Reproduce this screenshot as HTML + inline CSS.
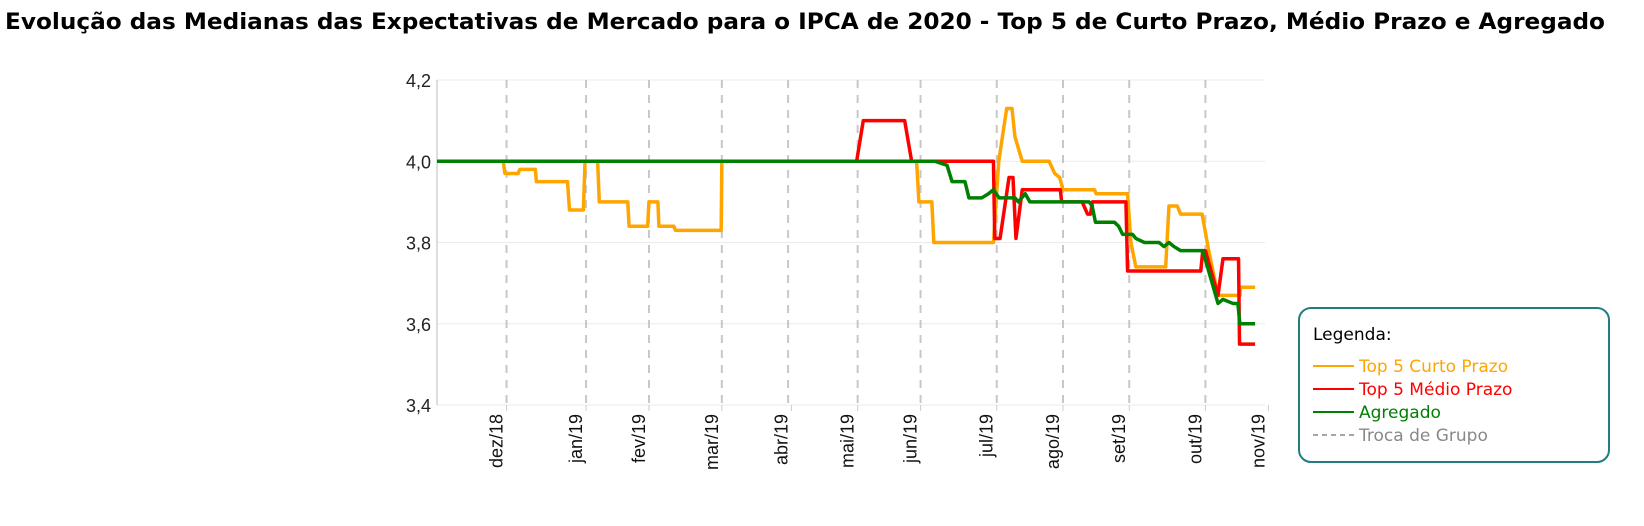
<!DOCTYPE html>
<html><head><meta charset="utf-8"><style>
body{margin:0;background:#fff;width:1644px;height:521px;overflow:hidden;font-family:"Liberation Sans",sans-serif}
</style></head><body>
<svg id="chart" width="1644" height="521" xmlns="http://www.w3.org/2000/svg">
<text x="5" y="29" font-family="'DejaVu Sans','Liberation Sans',sans-serif" font-weight="bold" font-size="22" textLength="1600" lengthAdjust="spacingAndGlyphs">Evolução das Medianas das Expectativas de Mercado para o IPCA de 2020 - Top 5 de Curto Prazo, Médio Prazo e Agregado</text>
<g id="grid"></g>
<g id="marks"></g>
<g>
<rect x="1299" y="308" width="310" height="154" rx="12" fill="#fff" stroke="#1f7f7f" stroke-width="2"/>
<text x="1313" y="340" font-family="'DejaVu Sans',sans-serif" font-size="17" fill="#000">Legenda:</text>
<line x1="1313" y1="366" x2="1354" y2="366" stroke="#ffa500" stroke-width="2"/>
<text x="1359" y="372" font-family="'DejaVu Sans',sans-serif" font-size="17" fill="#ffa500">Top 5 Curto Prazo</text>
<line x1="1313" y1="389" x2="1354" y2="389" stroke="#ff0000" stroke-width="2"/>
<text x="1359" y="395" font-family="'DejaVu Sans',sans-serif" font-size="17" fill="#ff0000">Top 5 Médio Prazo</text>
<line x1="1313" y1="412" x2="1354" y2="412" stroke="#008000" stroke-width="2"/>
<text x="1359" y="418" font-family="'DejaVu Sans',sans-serif" font-size="17" fill="#008000">Agregado</text>
<line x1="1313" y1="435" x2="1354" y2="435" stroke="#888" stroke-width="1.5" stroke-dasharray="5,4"/>
<text x="1359" y="441" font-family="'DejaVu Sans',sans-serif" font-size="17" fill="#888">Troca de Grupo</text>
</g>
</svg>
<script>
const yTicks=[3.4,3.6,3.8,4.0,4.2];
const yTickLabels=["3,4","3,6","3,8","4,0","4,2"];
const monthTicks=[21,45,64,86,107,127,146,169,189,209,232,251];
const monthLabels=["dez/18","jan/19","fev/19","mar/19","abr/19","mai/19","jun/19","jul/19","ago/19","set/19","out/19","nov/19"];
const groupChanges=[21,45,64,86,106,127,146,169,189,209,232];
const curtoT=[0,20,20.5,24.5,25,29.7,30,39.4,40,44.2,44.7,48.5,49,57.6,58,63.6,64,66.7,67,71.5,72,85.8,86,144.8,145.5,149.4,150,168,169.6,172,173.6,174.5,176.7,184.8,186.5,188,189,198.5,199,208.5,209.5,211,220,221,223.5,224.5,231,233,235.8,242.4,242.6,247];
const curtoV=[4.0,4.0,3.97,3.97,3.98,3.98,3.95,3.95,3.88,3.88,4.0,4.0,3.90,3.90,3.84,3.84,3.90,3.90,3.84,3.84,3.83,3.83,4.0,4.0,3.90,3.90,3.80,3.80,4.0,4.13,4.13,4.06,4.0,4.0,3.97,3.96,3.93,3.93,3.92,3.92,3.80,3.74,3.74,3.89,3.89,3.87,3.87,3.78,3.67,3.67,3.69,3.69];
const medioT=[0,126.7,128.7,141.2,143.3,168,168.4,170,172.7,173.9,174.8,176.7,188.2,188.6,194.8,196.4,197.3,197.9,208,208.5,230.6,231.2,232,235.8,237.3,242,242.3,247];
const medioV=[4.0,4.0,4.1,4.1,4.0,4.0,3.81,3.81,3.96,3.96,3.81,3.93,3.93,3.90,3.90,3.87,3.87,3.90,3.90,3.73,3.73,3.78,3.78,3.67,3.76,3.76,3.55,3.55];
const agregT=[0,150.3,154,155.5,159.4,160.6,164.5,166.5,168,169.7,174.5,175.5,177.6,179,196.9,197.8,198.8,204.5,205.8,207,210,211,213.6,218,219.5,221,222.5,224.5,230.6,231.2,235.8,237.3,240.3,241.8,242.4,247];
const agregV=[4.0,4.0,3.99,3.95,3.95,3.91,3.91,3.92,3.93,3.91,3.91,3.90,3.92,3.90,3.90,3.89,3.85,3.85,3.84,3.82,3.82,3.81,3.80,3.80,3.79,3.80,3.79,3.78,3.78,3.78,3.65,3.66,3.65,3.65,3.60,3.60];

const NS="http://www.w3.org/2000/svg";
const X0=437,X1=1270,T1=251.5,Y0=405,Y1=80,V0=3.4,V1=4.2;
function xs(t){return X0+(t/T1)*(X1-X0);}
function ys(v){return Y0-(v-V0)/(V1-V0)*(Y0-Y1);}
const grid=document.getElementById('grid'),marks=document.getElementById('marks');
function mk(tag,attrs,parent){const e=document.createElementNS(NS,tag);for(const k in attrs)e.setAttribute(k,attrs[k]);parent.appendChild(e);return e;}
yTicks.forEach((v,i)=>{
  const l=mk('line',{x1:X0,x2:1265,y1:ys(v),y2:ys(v),stroke:'#ebebeb','stroke-width':1},grid);
  
  
  const t=mk('text',{x:X0-6,y:ys(v)+7,'text-anchor':'end','font-size':18,fill:'#222'},grid);
  
  
  t.textContent=yTickLabels[i];
});
const ax=mk('line',{x1:X0,x2:X0,y1:Y1,y2:Y0,stroke:'#bbb','stroke-width':1},grid);


monthTicks.forEach((t,i)=>{
  const x=xs(t);
  const tk=mk('line',{x1:x,x2:x,y1:Y0,y2:Y0+6,stroke:'#ccc','stroke-width':1},grid);
  
  
  const lb=mk('text',{x:0,y:0,'text-anchor':'end','font-size':18,fill:'#111',transform:`translate(${x-4},${Y0+9}) rotate(-90)`},grid);
  
  
  lb.textContent=monthLabels[i];
});
groupChanges.forEach(t=>{
  const d=mk('line',{x1:xs(t),x2:xs(t),y1:Y1,y2:Y0,stroke:'#c8c8c8','stroke-width':2,'stroke-dasharray':'8,7'},grid);
  
  
});
function series(T,V,color,name){
  const p=mk('polyline',{points:T.map((t,i)=>xs(t)+','+ys(V[i])).join(' '),fill:'none',stroke:color,'stroke-width':3.5,'stroke-linejoin':'round'},marks);
  
  
}
series(curtoT,curtoV,'#ffa500','line-top5-curto');
series(medioT,medioV,'#ff0000','line-top5-medio');
series(agregT,agregV,'#008000','line-agregado');
</script>
</body></html>
